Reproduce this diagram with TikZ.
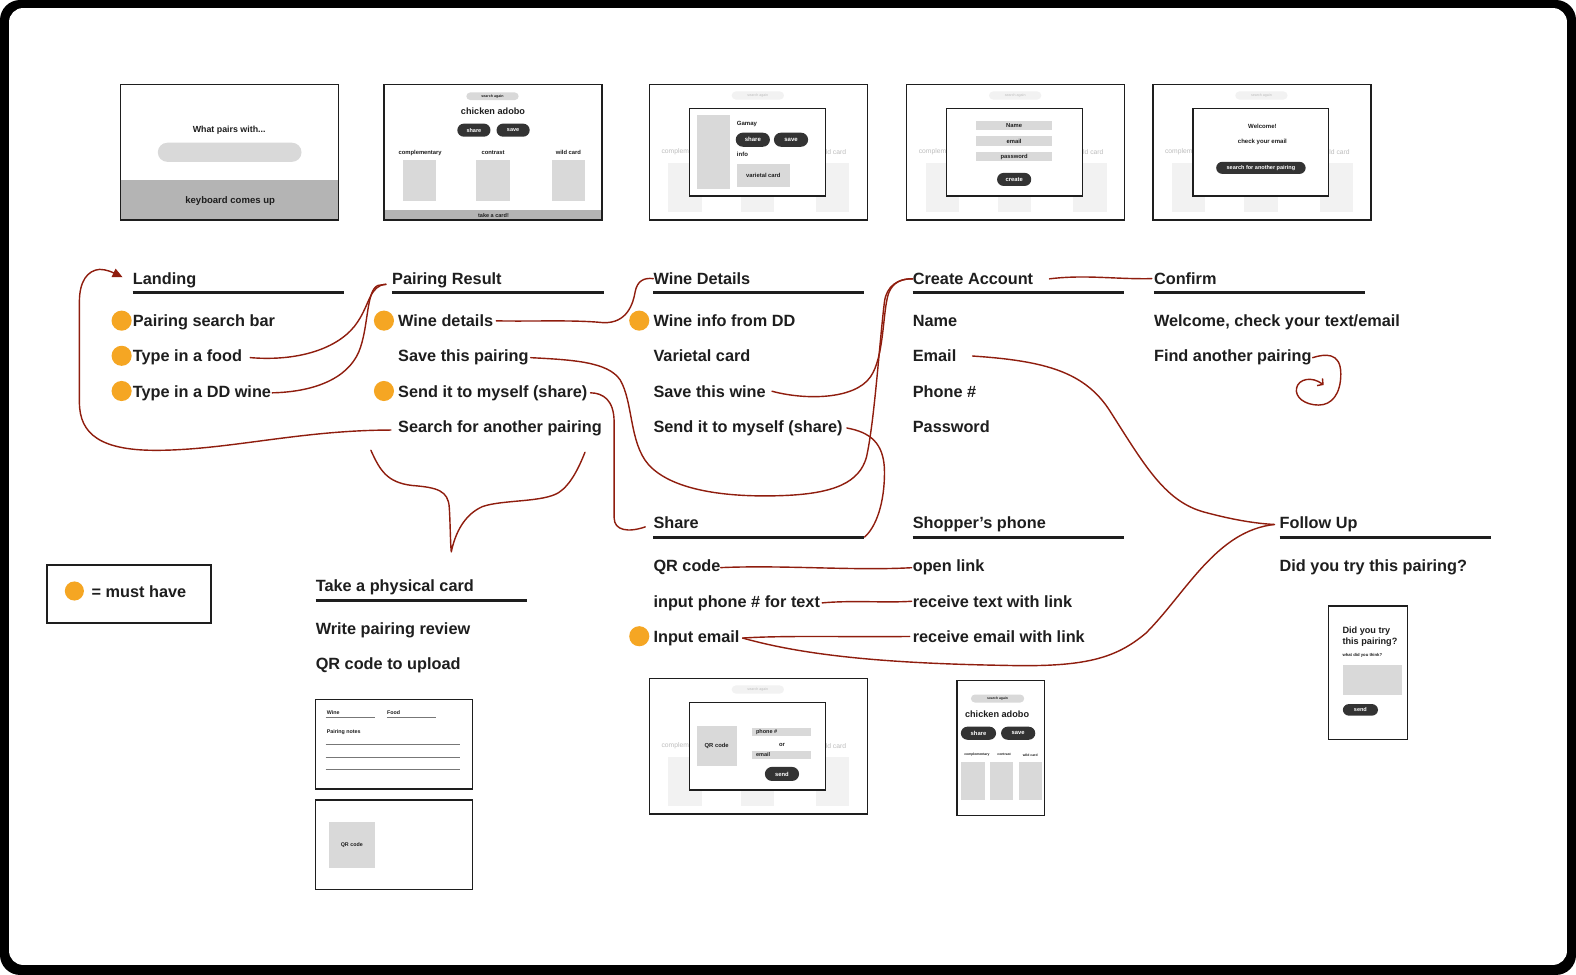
\documentclass[tikz,border=0pt]{standalone}
\usepackage{fontspec}
\setmainfont{Liberation Sans}
\usetikzlibrary{arrows.meta}
\definecolor{ink}{HTML}{1E1E1E}
\definecolor{conn}{HTML}{8F1D0E}
\definecolor{must}{HTML}{F5A623}
\definecolor{wfgray}{HTML}{D9D9D9}
\definecolor{wfdark}{HTML}{333333}
\definecolor{wfmid}{HTML}{B4B4B4}
\definecolor{faint}{HTML}{F2F2F2}
\definecolor{fainttext}{HTML}{BDBDBD}
\definecolor{noteline}{HTML}{777777}
\newcommand\hfont{\fontsize{16.2}{19}\selectfont\bfseries}
\newcommand\wfs[1]{\fontsize{#1}{#1}\selectfont\bfseries}
\newcommand\bgframe[3]{%
  \begin{scope}[shift={(#1,#2)}]
    \draw[wframe] (0,0) rectangle (217,135);
    \fill[faint, rounded corners=4pt] (82,7) rectangle (134,15);
    \node[ft=3.6] (#3-sa) at (108,11) {search again};
    \node[ft=6.7, anchor=west] (#3-cl) at (12,67) {complementary};
    \node[ft=6.7, anchor=east] (#3-wc) at (196,67) {wild card};
    \fill[faint] (19,78) rectangle (52,127);
    \fill[faint] (91,78) rectangle (124,127);
    \fill[faint] (166,78) rectangle (199,127);
    \draw[wframe] (40,24) rectangle (175,111);
  \end{scope}}
\begin{document}
\begin{tikzpicture}[x=1pt,y=-1pt,
  txt/.style={anchor=base west, inner sep=0, text=ink, font=\hfont},
  uline/.style={draw=ink, line width=3pt},
  mdot/.style={circle, fill=must, minimum size=20pt, inner sep=0},
  conn/.style={draw=conn, line width=1.4pt, line cap=round, line join=round},
  wframe/.style={draw=ink, line width=1.3pt, fill=white},
  wborder/.style={draw=ink, line width=1.3pt},
  wt/.style={inner sep=0, text=ink, font=\wfs{#1}},
  wtl/.style={inner sep=0, anchor=west, text=ink, font=\wfs{#1}},
  bt/.style={inner sep=0, text=white, font=\wfs{#1}},
  ft/.style={inner sep=0, text=fainttext, font=\fontsize{#1}{#1}\selectfont},
  pill/.style={fill=wfdark, rounded corners=6.5pt},
  gbox/.style={fill=wfgray},
  nline/.style={draw=noteline, line width=0.7pt},
]
\useasboundingbox (0,0) rectangle (1568,970);
\fill[black, rounded corners=20pt] (0,0) rectangle (1568,970);
\fill[white, rounded corners=14pt] (9,8) rectangle (1559,960);

% ---------- wireframe 1: landing
\fill[wfmid] (120,179) rectangle (337,219);
\draw[wborder] (120,84) rectangle (337,219);
\node[wt=8.8] (w1t) at (228,130) {What pairs with...};
\fill[wfgray, rounded corners=9.5pt] (157,142) rectangle (300,161);
\node[wt=9.5] (w1k) at (229,200) {keyboard comes up};

% ---------- wireframe 2: pairing result
\fill[wfmid] (382,209) rectangle (599,219);
\draw[wborder] (382,84) rectangle (599,219);
\fill[wfgray, rounded corners=3.75pt] (464,92) rectangle (516,99.5);
\node[wt=3.6] (w2sa) at (490,95.9) {search again};
\node[wt=9.1] (w2t) at (490.5,111) {chicken adobo};
\fill[pill] (455,123) rectangle (488,136);
\node[bt=5.5] (w2sh) at (471.5,129.5) {share};
\fill[pill] (494,123) rectangle (527,136);
\node[bt=5.5] (w2sv) at (510.5,129.5) {save};
\node[wt=5.8] (w2c1) at (418,152) {complementary};
\node[wt=5.8] (w2c2) at (490.5,152) {contrast};
\node[wt=5.8] (w2c3) at (565.5,152) {wild card};
\fill[gbox] (401,159) rectangle (434,200);
\fill[gbox] (474,159) rectangle (507,200);
\fill[gbox] (549,159) rectangle (582,200);
\node[wt=5.5] (w2b) at (491,214.3) {take a card!};

% ---------- wireframe 3: wine details
\bgframe{646}{84}{w3}
\fill[gbox] (693,114) rectangle (726,188);
\node[wtl=6] (w3g) at (733,123) {Gamay};
\fill[pill, rounded corners=7pt] (732,132) rectangle (766,146);
\node[bt=6] (w3sh) at (749,139) {share};
\fill[pill, rounded corners=7pt] (770,132) rectangle (804,146);
\node[bt=6] (w3sv) at (787,139) {save};
\node[wtl=6] (w3i) at (733,154) {info};
\fill[gbox] (733,163) rectangle (786,186);
\node[wt=5.8] (w3v) at (759.5,175) {varietal card};

% ---------- wireframe 4: create account
\bgframe{902}{84}{w4}
\fill[gbox] (971,120) rectangle (1047,129.5);
\node[wt=5.8] (w4n) at (1009,125) {Name};
\fill[gbox] (971,135.5) rectangle (1047,145);
\node[wt=5.8] (w4e) at (1009,140.5) {email};
\fill[gbox] (971,151) rectangle (1047,160.5);
\node[wt=5.8] (w4p) at (1009,156) {password};
\fill[pill, rounded corners=6.5pt] (992,172) rectangle (1026,185);
\node[bt=5.8] (w4c) at (1009,178.5) {create};

% ---------- wireframe 5: confirm
\bgframe{1147}{84}{w5}
\node[wt=6] (w5w) at (1256,126) {Welcome!};
\node[wt=6] (w5c) at (1256,141) {check your email};
\fill[pill, rounded corners=6pt] (1210,161) rectangle (1299,173);
\node[bt=5.5] (w5b) at (1254.5,167) {search for another pairing};

% ---------- headings and items
\node[txt] (landing) at (132,283) {Landing};
\draw[uline] (132,291) -- (342,291);
\node[mdot] (d1) at (121,319) {};
\node[mdot] (d2) at (121,354) {};
\node[mdot] (d3) at (121,389) {};
\node[txt] (lsearch) at (132,325) {Pairing search bar};
\node[txt] (lfood) at (132,360) {Type in a food};
\node[txt] (lwine) at (132,395) {Type in a DD wine};

\node[txt] (pres) at (390,283) {Pairing Result};
\draw[uline] (390,291) -- (601,291);
\node[mdot] (d4) at (382,319) {};
\node[mdot] (d5) at (382,389) {};
\node[txt] (pwine) at (396,325) {Wine details};
\node[txt] (psave) at (396,360) {Save this pairing};
\node[txt] (psend) at (396,395) {Send it to myself (share)};
\node[txt] (psearch) at (396,430) {Search for another pairing};

\node[txt] (wdet) at (650,283) {Wine Details};
\draw[uline] (650,291) -- (860,291);
\node[mdot] (d6) at (636,319) {};
\node[txt] (winfo) at (650,325) {Wine info from DD};
\node[txt] (wvar) at (650,360) {Varietal card};
\node[txt] (wsave) at (650,395) {Save this wine};
\node[txt] (wsend) at (650,430) {Send it to myself (share)};

\node[txt] (cacc) at (908,283) {Create Account};
\draw[uline] (908,291) -- (1118,291);
\node[txt] (cname) at (908,325) {Name};
\node[txt] (cemail) at (908,360) {Email};
\node[txt] (cphone) at (908,395) {Phone \#};
\node[txt] (cpass) at (908,430) {Password};

\node[txt] (conf) at (1148,283) {Confirm};
\draw[uline] (1148,291) -- (1358,291);
\node[txt] (cwelcome) at (1148,325) {Welcome, check your text/email};
\node[txt] (cfind) at (1148,360) {Find another pairing};

\node[txt] (share) at (650,526) {Share};
\draw[uline] (650,534.5) -- (860,534.5);
\coordinate (shareul) at (860,534.5);
\node[mdot] (d7) at (636,633) {};
\node[txt] (sqr) at (650,569) {QR code};
\node[txt] (sphone) at (650,604) {input phone \# for text};
\node[txt] (semail) at (650,639) {Input email};

\node[txt] (shop) at (908,526) {Shopper’s phone};
\draw[uline] (908,534.5) -- (1118,534.5);
\node[txt] (sopen) at (908,569) {open link};
\node[txt] (stext) at (908,604) {receive text with link};
\node[txt] (semlink) at (908,639) {receive email with link};

\node[txt] (fup) at (1273,526) {Follow Up};
\draw[uline] (1273,534.5) -- (1483,534.5);
\node[txt] (ftry) at (1273,569) {Did you try this pairing?};

\node[txt] (card) at (314,588) {Take a physical card};
\draw[uline] (314,597) -- (524,597);
\node[txt] (cwrite) at (314,631) {Write pairing review};
\node[txt] (cqr) at (314,666) {QR code to upload};

% ---------- legend
\draw[ink, line width=1.8pt] (47,562) rectangle (210,620);
\node[mdot, minimum size=19pt] (legdot) at (74,588) {};
\node[txt] (legtxt) at (91,594) {= must have};

% ---------- physical cards
\draw[wborder] (314,696) rectangle (470,785);
\node[wt=5.3, anchor=west] (k1w) at (325,709) {Wine};
\draw[nline] (324,714) -- (373,714);
\node[wt=5.3, anchor=west] (k1f) at (385,709) {Food};
\draw[nline] (385,714) -- (434,714);
\node[wt=5.3, anchor=west] (k1p) at (325,728) {Pairing notes};
\draw[nline] (324,740.5) -- (458,740.5);
\draw[nline] (324,753) -- (458,753);
\draw[nline] (324,765.5) -- (458,765.5);
\draw[wborder] (314,796) rectangle (470,885);
\fill[gbox] (327,818) rectangle (373,864);
\node[wt=5.3] (k2q) at (350,841) {QR code};

% ---------- share wireframe
\bgframe{646}{675}{sw}
\fill[gbox] (693,722) rectangle (733,762);
\node[wt=5.8] (swq) at (713,742) {QR code};
\fill[gbox] (748,724) rectangle (807,732);
\node[wtl=5.5] (swp) at (752,728) {phone \#};
\node[wt=5.8] (swo) at (778,741) {or};
\fill[gbox] (748,747) rectangle (807,755);
\node[wtl=5.5] (swe) at (752,751) {email};
\fill[pill, rounded corners=7pt] (761,763) rectangle (795,777);
\node[bt=5.8] (sws) at (778,770) {send};

% ---------- shopper phone wireframe
\draw[wborder] (952,677) rectangle (1039,811);
\fill[wfgray, rounded corners=4pt] (966,691) rectangle (1019,699);
\node[wt=3.4] (phsa) at (992.5,695) {search again};
\node[wt=9.1] (pht) at (992,710.5) {chicken adobo};
\fill[pill] (956,723) rectangle (991,736);
\node[bt=5.8] (phsh) at (973.5,729.5) {share};
\fill[pill] (996,723) rectangle (1030,736);
\node[bt=5.8] (phsv) at (1013,729.5) {save};
\node[wt=3.4] (phc1) at (972,751) {complementary};
\node[wt=3.4] (phc2) at (999,751) {contrast};
\node[wt=3.4] (phc3) at (1025,751) {wild card};
\fill[gbox] (956,758) rectangle (980,796);
\fill[gbox] (985,758) rectangle (1008,796);
\fill[gbox] (1014,758) rectangle (1037,796);

% ---------- follow up wireframe
\draw[wborder] (1322,603) rectangle (1400,736);
\node[wtl=9.1] (fu1) at (1335.5,627.5) {Did you try};
\node[wtl=9.1] (fu2) at (1335.5,639) {this pairing?};
\node[wtl=4.2] (fu3) at (1335.5,652.5) {what did you think?};
\fill[gbox] (1336,662) rectangle (1395,691);
\fill[pill, rounded corners=6pt] (1336,700.5) rectangle (1371,712);
\node[bt=5.5] (fus) at (1353.5,706.3) {send};

% ---------- connectors
% search again -> landing
\draw[conn, -{Triangle[length=10pt,width=9pt]}] ([xshift=-7pt,yshift=-2pt]psearch.west)
  .. controls (300,428) and (230,447) .. (160,448)
  .. controls (100,449) and (79,432) .. (79,400)
  -- (79,300)
  .. controls (79,280) and (87,269) .. (99,268)
  .. controls (106,268) and (112,271) .. ([xshift=-10pt,yshift=3pt]landing.west);
% type in a food -> pairing result
\draw[conn] ([xshift=8pt]lfood.east)
  .. controls (300,360) and (340,345) .. (356,320)
  .. controls (368,302) and (368,284) .. ([xshift=-6pt,yshift=-4pt]pres.west);
% type in a DD wine -> pairing result
\draw[conn] ([xshift=1pt]lwine.east)
  .. controls (310,390) and (345,378) .. (357,350)
  .. controls (367,326) and (364,289) .. (376,284)
  -- ([xshift=-6pt,yshift=-4pt]pres.west);
% wine details -> Wine Details
\draw[conn] ([xshift=3pt]pwine.east)
  .. controls (530,320) and (570,318) .. (600,321)
  .. controls (624,322) and (630,302) .. (632,290)
  .. controls (634,280) and (640,276) .. (wdet.west);
% save this pairing -> create account
\draw[conn] ([xshift=2pt]psave.east)
  .. controls (570,358) and (605,360) .. (617,378)
  .. controls (630,400) and (626,440) .. (645,462)
  .. controls (670,490) and (730,495) .. (780,493)
  .. controls (830,491) and (855,480) .. (862,455)
  .. controls (870,420) and (875,340) .. (880,300)
  .. controls (882,285) and (893,277) .. (cacc.west);
% save this wine -> create account
\draw[conn] ([xshift=6pt]wsave.east)
  .. controls (800,398) and (850,398) .. (866,375)
  .. controls (880,355) and (878,310) .. (884,292)
  .. controls (888,281) and (897,277) .. (cacc.west);
% send it to myself -> share
\draw[conn] ([xshift=3pt]psend.east)
  .. controls (600,391) and (611,398) .. (611,420)
  -- (611,515)
  .. controls (611,528) and (625,530) .. ([xshift=-8pt,yshift=-4pt]share.west);
% wine send -> share
\draw[conn] ([xshift=4pt]wsend.east)
  .. controls (865,430) and (880,440) .. (880,470)
  .. controls (880,500) and (872,524) .. (shareul);
% create account -> confirm
\draw[conn] ([xshift=16pt]cacc.east)
  .. controls (1080,273) and (1110,278) .. ([xshift=-2pt]conf.west);
% email -> follow up
\draw[conn] ([xshift=16pt]cemail.east)
  .. controls (1040,359) and (1080,370) .. (1105,410)
  .. controls (1140,465) and (1160,500) .. (1200,510)
  .. controls (1230,518) and (1252,521) .. ([xshift=-5pt]fup.west);
% input email -> follow up
\draw[conn] ([xshift=3pt]semail.east)
  .. controls (800,652) and (880,660) .. (1000,662)
  .. controls (1080,664) and (1110,655) .. (1140,630)
  .. controls (1180,590) and (1210,528) .. ([xshift=-5pt]fup.west);
% input email -> receive email with link
\draw[conn] ([xshift=3pt]semail.east)
  .. controls (780,632) and (850,634) .. ([xshift=-3pt]semlink.west);
% QR code -> open link
\draw[conn] (sqr.east)
  .. controls (780,562) and (850,568) .. ([xshift=-1pt]sopen.west);
% input phone -> receive text
\draw[conn] ([xshift=2pt]sphone.east)
  .. controls (850,597) and (880,600) .. ([xshift=-1pt]stext.west);
% find another pairing -> loop
\draw[conn, -{Straight Barb[length=4pt,width=9pt]}] ([xshift=1pt]cfind.east)
  .. controls (1318,352) and (1334,350) .. (1334,372)
  .. controls (1334,392) and (1325,403) .. (1312,403)
  .. controls (1298,403) and (1288,395) .. (1290,386)
  .. controls (1292,377) and (1305,374) .. (1317,383);
% brace under search for another pairing
\coordinate (braceL) at (369,448);
\coordinate (braceR) at (582,450);
\draw[conn] (braceL)
  .. controls (378,468) and (385,480) .. (410,483)
  .. controls (435,485) and (446,488) .. (447,505)
  .. controls (448,520) and (448,540) .. (449,549)
  .. controls (453,530) and (462,512) .. (480,504)
  .. controls (500,497) and (540,500) .. (556,490)
  .. controls (568,482) and (576,465) .. (braceR);
\end{tikzpicture}
\end{document}
